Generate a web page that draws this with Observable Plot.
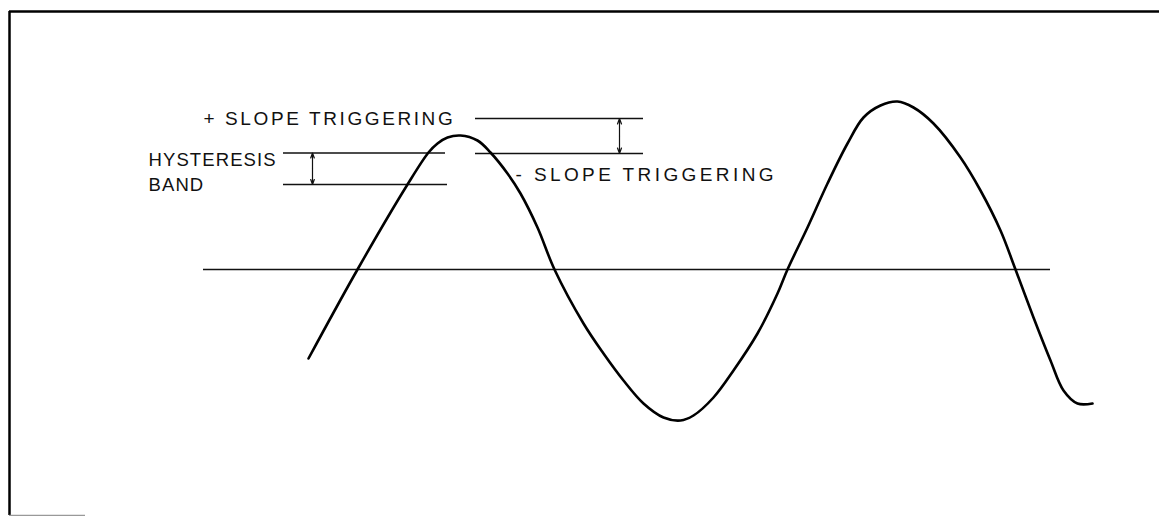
<!DOCTYPE html>
<html>
<head>
<meta charset="utf-8">
<script src="https://cdn.jsdelivr.net/npm/d3@7"></script>
<script src="https://cdn.jsdelivr.net/npm/@observablehq/plot@0.6"></script>
<style>
  html, body { margin: 0; padding: 0; background: #fff; }
  #chart svg { display: block; }
</style>
</head>
<body>
<div id="chart"></div>
<script>
// Waveform (time in arbitrary divisions, voltage in arbitrary units; 0 = trigger reference)
const waveT = [1.05, 1.54, 2.04, 2.25, 2.34, 2.44, 2.57, 2.74, 2.87, 3.04, 3.17, 3.34, 3.51,
  3.80, 4.00, 4.20, 4.40, 4.60, 4.77, 4.90, 5.10, 5.30, 5.54, 5.74, 5.84, 6.04, 6.24, 6.44,
  6.60, 6.77, 6.94, 7.10, 7.30, 7.57, 7.77, 7.97, 8.12, 8.30, 8.47, 8.60, 8.74, 8.89];
const waveV = [-0.89, 0.00, 0.85, 1.17, 1.26, 1.32, 1.34, 1.29, 1.17, 0.96, 0.76, 0.42, 0.00,
  -0.54, -0.84, -1.11, -1.34, -1.48, -1.51, -1.46, -1.28, -1.01, -0.64, -0.24, 0.00, 0.42, 0.86, 1.26,
  1.52, 1.64, 1.68, 1.62, 1.46, 1.12, 0.79, 0.39, 0.00, -0.48, -0.91, -1.21, -1.34, -1.34];

// Horizontal reference levels
const levelNames = ["zero", "hystUpper", "hystLower", "plusSlope", "minusSlope"];
const levelV     = [0.00, 1.165, 0.85, 1.51, 1.16];
const levelT1    = [0.00, 0.80, 0.80, 2.72, 2.72];
const levelT2    = [8.47, 2.42, 2.44, 4.40, 4.40];

// Double-headed dimension arrows
const arrowT    = [1.09, 4.16];
const arrowLow  = [0.85, 1.16];
const arrowHigh = [1.165, 1.51];

// Labels
const slopeText = ["+ SLOPE TRIGGERING", "- SLOPE TRIGGERING"];
const slopeT    = [0.00, 3.12];
const slopeV    = [1.51, 0.95];
const bandText  = ["HYSTERESIS", "BAND"];
const bandT     = [-0.55, -0.55];
const bandV     = [1.09, 0.84];

// Extents of the drawing area
const xDomain = [-1.94, 9.56];
const yDomain = [-2.46, 2.58];

const wave = waveT.map((t, i) => ({t, v: waveV[i]}));
const levels = levelNames.map((n, i) => ({name: n, v: levelV[i], t1: levelT1[i], t2: levelT2[i]}));
const arrows = arrowT.map((t, i) => ({t, lo: arrowLow[i], hi: arrowHigh[i], mid: (arrowLow[i] + arrowHigh[i]) / 2}));
const slopeLabels = slopeText.map((s, i) => ({s, t: slopeT[i], v: slopeV[i]}));
const bandLabels = bandText.map((s, i) => ({s, t: bandT[i], v: bandV[i]}));

const font = "'Liberation Sans', Arial, Helvetica, sans-serif";

const plot = Plot.plot({
  width: 1159,
  height: 516,
  marginTop: 11,
  marginLeft: 9,
  marginRight: 0,
  marginBottom: 1,
  style: {background: "#fff", fontFamily: font},
  x: {domain: xDomain, axis: null},
  y: {domain: yDomain, axis: null},
  marks: [
    // partial border (top & left, short faint bottom stub)
    Plot.ruleY([yDomain[1]], {stroke: "#000", strokeWidth: 2.5}),
    Plot.ruleX([xDomain[0]], {stroke: "#000", strokeWidth: 2.5}),
    Plot.ruleY([yDomain[0]], {x1: xDomain[0], x2: -1.18, stroke: "#999", strokeWidth: 1.5}),
    // reference levels
    Plot.ruleY(levels, {y: "v", x1: "t1", x2: "t2", stroke: "#111", strokeWidth: 1.3}),
    // dimension arrows (drawn from the middle outward)
    Plot.arrow(arrows, {x1: "t", x2: "t", y1: "mid", y2: "hi", stroke: "#111", strokeWidth: 1.2, headLength: 8, headAngle: 40, insetEnd: 0}),
    Plot.arrow(arrows, {x1: "t", x2: "t", y1: "mid", y2: "lo", stroke: "#111", strokeWidth: 1.2, headLength: 8, headAngle: 40, insetEnd: 0}),
    // waveform
    Plot.line(wave, {x: "t", y: "v", curve: "catmull-rom", stroke: "#000", strokeWidth: 2.6}),
    // labels
    Plot.text(slopeLabels, {x: "t", y: "v", text: "s", textAnchor: "start", lineAnchor: "middle",
      fontSize: 19, fill: "#111", fontFamily: font}),
    Plot.text(bandLabels, {x: "t", y: "v", text: "s", textAnchor: "start", lineAnchor: "middle",
      fontSize: 18.5, fill: "#111", fontFamily: font})
  ]
});
document.getElementById("chart").append(plot);
// typographic spacing of the labels
const spacing = {"+ SLOPE TRIGGERING": "2.6px", "- SLOPE TRIGGERING": "3.4px", "HYSTERESIS": "1.1px", "BAND": "1.1px"};
d3.select(plot).selectAll("text").each(function() {
  const s = this.textContent;
  if (s in spacing) this.style.letterSpacing = spacing[s];
});
</script>
</body>
</html>
